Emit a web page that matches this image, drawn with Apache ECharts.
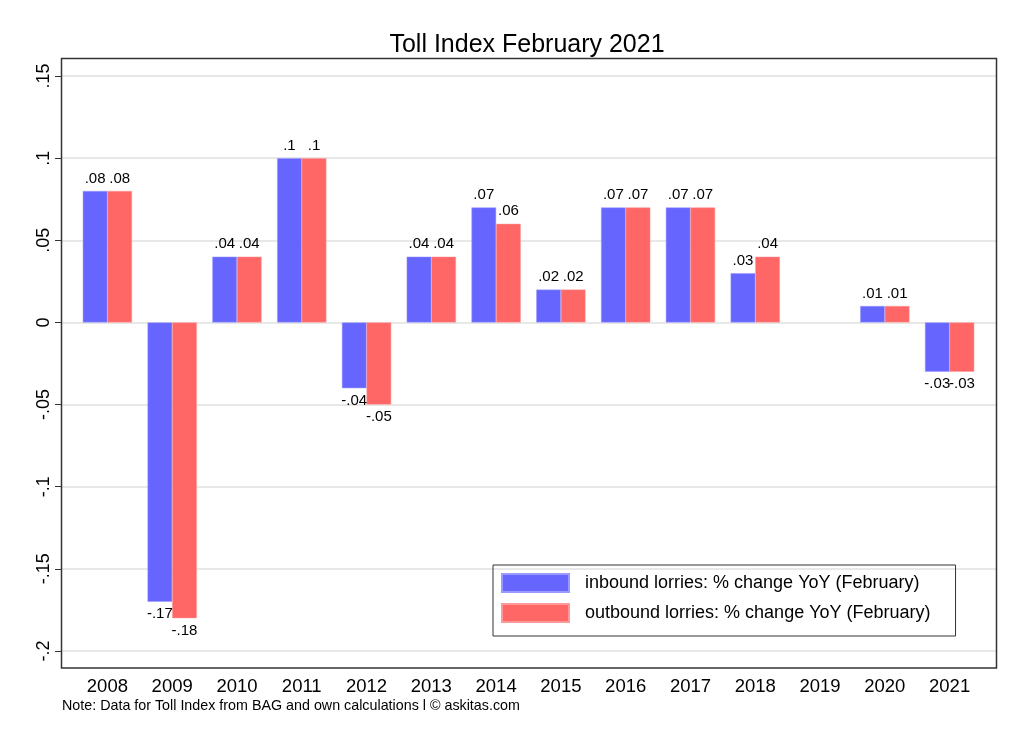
<!DOCTYPE html>
<html>
<head>
<meta charset="utf-8">
<script src="https://cdn.jsdelivr.net/npm/echarts@6/dist/echarts.min.js"></script>
<style>
html,body{margin:0;padding:0;background:#fff;}
#c{width:1024px;height:745px;}
</style>
</head>
<body>
<div id="c"></div>
<script>
var years = ['2008','2009','2010','2011','2012','2013','2014','2015','2016','2017','2018','2019','2020','2021'];
var inbound = [0.08,-0.17,0.04,0.1,-0.04,0.04,0.07,0.02,0.07,0.07,0.03,null,0.01,-0.03];
var outbound = [0.08,-0.18,0.04,0.1,-0.05,0.04,0.06,0.02,0.07,0.07,0.04,null,0.01,-0.03];
var yTicks = {min:-0.2, max:0.15, interval:0.05};
var seriesNames = ['inbound lorries: % change YoY (February)','outbound lorries: % change YoY (February)'];
var titleText = 'Toll Index February 2021';
var noteText = 'Note: Data for Toll Index from BAG and own calculations l \u00a9 askitas.com';

var FONT = '"Liberation Sans", Arial, Helvetica, sans-serif';
function fmt(v){
  var r = Math.round(v*100)/100;
  var s = String(r);
  return s.replace(/^(-?)0\./,'$1.');
}
function toItems(arr){
  return arr.map(function(v){
    if (v === null) return {value:null, label:{show:false}};
    return {value:v, label:{position: v < 0 ? 'bottom' : 'top'}};
  });
}
var chart = echarts.init(document.getElementById('c'));
var option = {
  backgroundColor:'#fff',
  animation:false,
  title:{text:titleText, left:522, top:28, textAlign:'center',
    textStyle:{fontFamily:FONT, fontSize:25, fontWeight:'normal', color:'#000'}},
  graphic:[
    {type:'rect', shape:{x:61.5, y:58.5, width:935, height:609.5}, z:100,
      style:{fill:'none', stroke:'#333', lineWidth:1.5}},
    {type:'text', left:62, top:699, style:{text:noteText, font:'14.3px '+FONT, fill:'#000'}}
  ],
  legend:{
    orient:'vertical', left:493, top:565,
    data:seriesNames,
    itemWidth:67, itemHeight:18, itemGap:10,
    padding:[8,25,13,8],
    borderColor:'#333', borderWidth:1,
    icon:'rect',
    textStyle:{fontFamily:FONT, fontSize:18, color:'#000', padding:[0,0,0,11]}
  },
  grid:[
    {left:61, right:27, top:76, bottom:94},
    {left:75, right:42, top:76, bottom:94}
  ],
  xAxis:[
    {type:'category', gridIndex:0, data:years, show:false},
    {type:'category', gridIndex:1, data:years,
      axisLine:{show:false}, axisTick:{show:false},
      axisLabel:{margin:26, fontFamily:FONT, fontSize:18.5, color:'#000'}}
  ],
  yAxis:[
    {type:'value', gridIndex:0, min:yTicks.min, max:yTicks.max, interval:yTicks.interval,
      axisLine:{show:false},
      axisTick:{show:true, length:6, lineStyle:{color:'#333'}},
      splitLine:{lineStyle:{color:'#e0e0e0', width:1.5}},
      axisLabel:{rotate:90, margin:8, fontFamily:FONT, fontSize:18, color:'#000',
        formatter:function(v){return fmt(v);}}},
    {type:'value', gridIndex:1, min:yTicks.min, max:yTicks.max, interval:yTicks.interval, show:false}
  ],
  series:[
    {name:seriesNames[0], type:'bar', xAxisIndex:1, yAxisIndex:1, data:toItems(inbound),
      barGap:'0%', barCategoryGap:'24%',
      itemStyle:{color:'#6666ff', borderColor:'#9999ff', borderWidth:0.5},
      label:{show:true, distance:5, fontFamily:FONT, fontSize:15, color:'#000',
        formatter:function(p){return fmt(p.value);}}},
    {name:seriesNames[1], type:'bar', xAxisIndex:1, yAxisIndex:1, data:toItems(outbound),
      barGap:'0%', barCategoryGap:'24%',
      itemStyle:{color:'#ff6666', borderColor:'#ff9999', borderWidth:0.5},
      label:{show:true, distance:5, fontFamily:FONT, fontSize:15, color:'#000',
        formatter:function(p){return fmt(p.value);}}}
  ]
};
chart.setOption(option);
</script>
</body>
</html>
